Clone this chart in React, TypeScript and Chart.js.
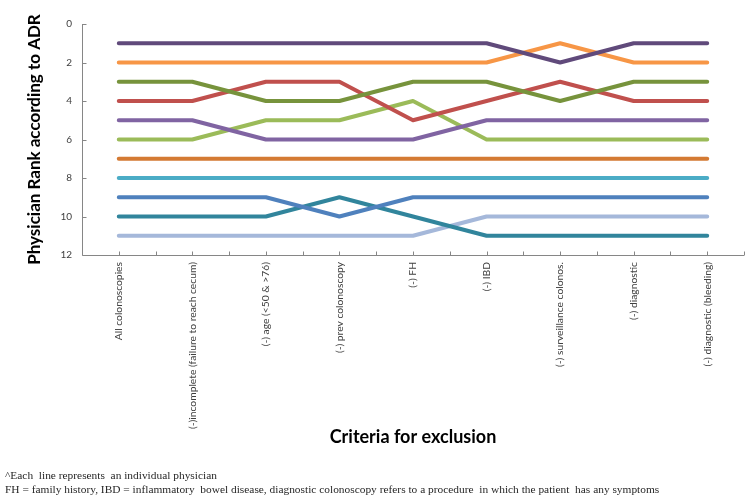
import React, { useEffect, useRef } from "react";
import { Chart, registerables } from "chart.js";

Chart.register(...registerables);

const categories = [
  "All colonoscopies",
  "(-)incomplete (failure to reach cecum)",
  "(-) age (<50 & >76)",
  "(-) prev colonoscopy",
  "(-) FH",
  "(-) IBD",
  "(-) surveillance colonos.",
  "(-) diagnostic",
  "(-) diagnostic (bleeding)",
];

const physicianA = [1, 1, 1, 1, 1, 1, 2, 1, 1];
const physicianB = [2, 2, 2, 2, 2, 2, 1, 2, 2];
const physicianC = [3, 3, 4, 4, 3, 3, 4, 3, 3];
const physicianD = [4, 4, 3, 3, 5, 4, 3, 4, 4];
const physicianE = [5, 5, 6, 6, 6, 5, 5, 5, 5];
const physicianF = [6, 6, 5, 5, 4, 6, 6, 6, 6];
const physicianG = [7, 7, 7, 7, 7, 7, 7, 7, 7];
const physicianH = [8, 8, 8, 8, 8, 8, 8, 8, 8];
const physicianI = [9, 9, 9, 10, 9, 9, 9, 9, 9];
const physicianJ = [10, 10, 10, 9, 10, 11, 11, 11, 11];
const physicianK = [11, 11, 11, 11, 11, 10, 10, 10, 10];

const yTicks = [0, 2, 4, 6, 8, 10, 12];

const footnotes = [
  "^Each  line represents  an individual physician",
  "FH = family history, IBD = inflammatory  bowel disease, diagnostic colonoscopy refers to a procedure  in which the patient  has any symptoms",
];

const series = [
  { label: "Physician 1", data: physicianA, color: "#604A7B" },
  { label: "Physician 2", data: physicianB, color: "#F79646" },
  { label: "Physician 3", data: physicianC, color: "#77933C" },
  { label: "Physician 4", data: physicianD, color: "#C0504D" },
  { label: "Physician 5", data: physicianE, color: "#8064A2" },
  { label: "Physician 6", data: physicianF, color: "#9BBB59" },
  { label: "Physician 7", data: physicianG, color: "#D47A33" },
  { label: "Physician 8", data: physicianH, color: "#4BACC6" },
  { label: "Physician 9", data: physicianI, color: "#4F81BD" },
  { label: "Physician 10", data: physicianJ, color: "#31859C" },
  { label: "Physician 11", data: physicianK, color: "#A5B8DA" },
];

const decorPlugin = {
  id: "decor",
  beforeDatasetsDraw(chart: any) {
    const { ctx, chartArea, scales } = chart;
    const xs = scales.x;
    const ys = scales.y;
    ctx.save();
    ctx.strokeStyle = "#868686";
    ctx.lineWidth = 1;
    ctx.beginPath();
    const l = Math.round(chartArea.left) + 0.5;
    const b = Math.round(chartArea.bottom) + 0.5;
    ctx.moveTo(l, chartArea.top);
    ctx.lineTo(l, b);
    ctx.lineTo(chartArea.right, b);
    const p0 = xs.getPixelForValue(0);
    const half = (xs.getPixelForValue(1) - p0) / 2;
    for (let i = 1; i <= categories.length * 2; i++) {
      const px = Math.round(p0 - half + i * half) + 0.5;
      ctx.moveTo(px, b);
      ctx.lineTo(px, b - 4);
    }
    yTicks.forEach((v) => {
      const py = Math.round(ys.getPixelForValue(v)) + 0.5;
      ctx.moveTo(l, py);
      ctx.lineTo(l + 4, py);
    });
    ctx.stroke();
    ctx.restore();
  },
  afterDraw(chart: any) {
    const { ctx, height } = chart;
    ctx.save();
    ctx.fillStyle = "#262626";
    ctx.font = "11.4px 'Liberation Serif'";
    ctx.textBaseline = "middle";
    ctx.textAlign = "left";
    ctx.fillText(footnotes[0], 5, height - 27);
    ctx.fillText(footnotes[1], 5, height - 13);
    ctx.restore();
  },
};

export default function App() {
  const ref = useRef<HTMLCanvasElement | null>(null);
  useEffect(() => {
    if (!ref.current) return;
    const chart = new Chart(ref.current, {
      type: "line",
      data: {
        labels: categories,
        datasets: series.map((s) => ({
          label: s.label,
          data: s.data,
          borderColor: s.color,
          backgroundColor: s.color,
          borderWidth: 4,
          pointRadius: 0,
          pointHoverRadius: 0,
          tension: 0,
          borderCapStyle: "round" as const,
          borderJoinStyle: "round" as const,
          fill: false,
        })),
      },
      options: {
        responsive: false,
        animation: false,
        layout: { padding: { top: 24, right: 7, bottom: 0, left: 0 } },
        plugins: {
          legend: { display: false },
          tooltip: { enabled: false },
          title: { display: false },
        },
        scales: {
          x: {
            type: "category",
            offset: true,
            grid: { display: false, drawTicks: false },
            border: { display: false },
            ticks: {
              autoSkip: false,
              minRotation: 90,
              maxRotation: 90,
              padding: 7,
              color: "#404040",
              font: { family: "Lato", size: 10.3 },
            },
            title: {
              display: true,
              text: "Criteria for exclusion",
              color: "#000",
              font: { family: "Lato", size: 18, weight: "bold" },
              padding: { top: 0, bottom: 55 },
            },
            afterFit: (scale: any) => {
              scale.height = 503 - 255;
            },
          },
          y: {
            reverse: true,
            min: 0,
            max: 12,
            grid: { display: false, drawTicks: false },
            border: { display: false },
            ticks: {
              stepSize: 2,
              padding: 10,
              color: "#404040",
              font: { family: "Lato", size: 10 },
            },
            title: {
              display: true,
              text: "Physician Rank according to ADR",
              color: "#000",
              font: { family: "Lato", size: 17, weight: "bold" },
              padding: { top: 24, bottom: 0 },
            },
            afterFit: (scale: any) => {
              scale.width = 82;
            },
          },
        },
      },
      plugins: [decorPlugin],
    });
    return () => chart.destroy();
  }, []);
  return (
    <div style={{ position: "absolute", left: 0, top: 0, width: 751, height: 503, background: "#fff" }}>
      <canvas ref={ref} width={751} height={503} style={{ display: "block" }} />
    </div>
  );
}
